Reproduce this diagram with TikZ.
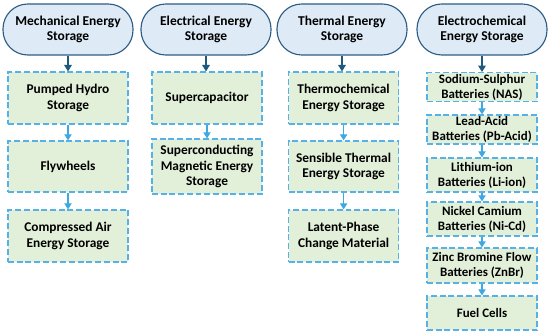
\documentclass[tikz,border=0pt]{standalone}
\usepackage{fontspec}
\setmainfont{Carlito}
\usepackage{tikz}
\usetikzlibrary{shapes,arrows.meta,positioning}
\usepackage{xcolor}
\definecolor{hdrfill}{RGB}{222,235,247}
\definecolor{hdrline}{RGB}{44,92,132}
\definecolor{darkarr}{RGB}{30,90,125}
\definecolor{leaffill}{RGB}{226,240,217}
\definecolor{leafline}{RGB}{86,178,230}
\definecolor{lightarr}{RGB}{62,168,225}

\begin{document}
\begin{tikzpicture}[
    hdr/.style={rectangle, draw=hdrline, line width=0.8pt, fill=hdrfill,
        minimum width=3.25cm, minimum height=1.275cm, rounded corners=0.62cm,
        align=center, font=\bfseries\fontsize{9.6}{11}\selectfont},
    leaf/.style={rectangle, draw=leafline, line width=0.85pt, fill=leaffill,
        dash pattern=on 4.2pt off 2pt, minimum width=2.75cm, inner sep=1pt,
        align=center, font=\bfseries\fontsize{9.5}{10.9}\selectfont},
    cell/.style={leaf, font=\bfseries\fontsize{9.2}{10.6}\selectfont},
    toparr/.style={-{Triangle[length=1.6mm, width=1.9mm]}, line width=0.8pt, darkarr},
    arr/.style={-{Triangle[length=1.5mm, width=1.8mm]}, line width=0.8pt, lightarr}
]
    \useasboundingbox (0,0) rectangle (13.75,8.35);
    % headers
    \node[hdr] (mech) at (1.7,7.6125) {Mechanical Energy\\Storage};
    \node[hdr] (elec) at (5.15,7.6125) {Electrical Energy\\Storage};
    \node[hdr] (therm) at (8.55,7.6125) {Thermal Energy\\Storage};
    \node[hdr] (echem) at (12.05,7.6125) {Electrochemical\\Energy Storage};
    % mechanical
    \node[leaf, minimum width=3cm, minimum height=1.3cm] (phs) at (1.7,5.9) {Pumped Hydro\\Storage};
    \node[leaf, minimum width=3cm, minimum height=1.275cm] (fly) at (1.7,4.1875) {Flywheels};
    \node[leaf, minimum width=3cm, minimum height=1.3cm] (caes) at (1.7,2.45) {Compressed Air\\Energy Storage};
    % electrical
    \node[leaf, minimum height=1.3cm] (scap) at (5.175,5.9) {Supercapacitor};
    \node[leaf, minimum height=1.375cm] (smes) at (5.175,4.1875) {Superconducting\\Magnetic Energy\\Storage};
    % thermal
    \node[leaf, minimum height=1.3cm] (tces) at (8.59,5.9) {Thermochemical\\Energy Storage};
    \node[leaf, minimum height=1.275cm] (stes) at (8.59,4.1875) {Sensible Thermal\\Energy Storage};
    \node[leaf, minimum height=1.3cm] (pcm) at (8.59,2.45) {Latent-Phase\\Change Material};
    % electrochemical
    \node[cell, minimum height=0.72cm] (nas) at (12.05,6.175) {Sodium-Sulphur\\Batteries (NAS)};
    \node[cell, minimum height=0.725cm] (pba) at (12.05,5.1125) {Lead-Acid\\Batteries (Pb-Acid)};
    \node[cell, minimum height=0.85cm] (lion) at (12.05,3.975) {Lithium-ion\\Batteries (Li-ion)};
    \node[cell, minimum height=0.85cm] (nicd) at (12.05,2.875) {Nickel Camium\\Batteries (Ni-Cd)};
    \node[cell, minimum height=0.875cm] (znbr) at (12.05,1.7125) {Zinc Bromine Flow\\Batteries (ZnBr)};
    \node[cell, minimum height=0.85cm] (fuel) at (12.05,0.525) {Fuel Cells};

    \draw[toparr] (mech) -- (phs);
    \draw[toparr] (elec.south) -- (elec.south |- scap.north);
    \draw[toparr] (therm) -- (therm |- tces.north);
    \draw[toparr] (echem) -- (nas);
    \draw[arr] (phs) -- (fly);
    \draw[arr] (fly) -- (caes);
    \draw[arr] (scap) -- (smes);
    \draw[arr] (tces) -- (stes);
    \draw[arr] (stes) -- (pcm);
    \draw[arr] (nas) -- (pba);
    \draw[arr] (pba) -- (lion);
    \draw[arr] (lion) -- (nicd);
    \draw[arr] (nicd) -- (znbr);
    \draw[arr] (znbr) -- (fuel);
\end{tikzpicture}
\end{document}
